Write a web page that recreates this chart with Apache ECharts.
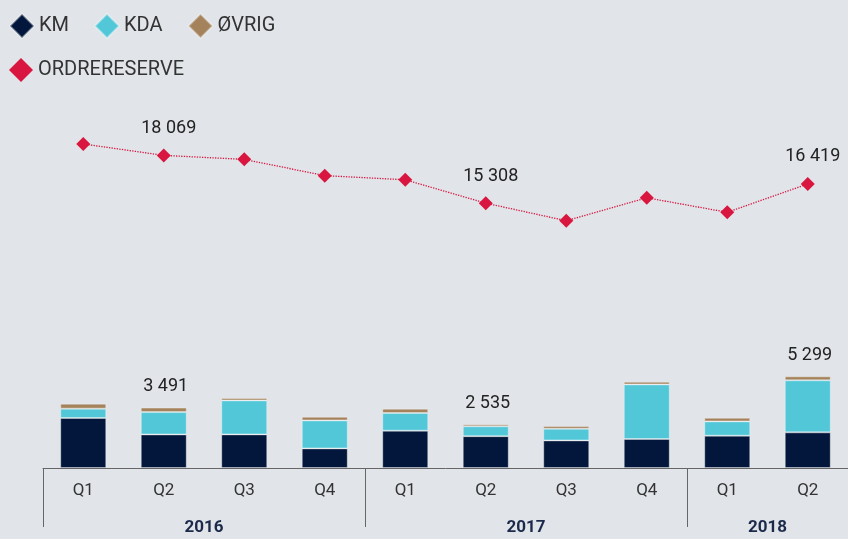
<!DOCTYPE html>
<html>
<head>
<meta charset="utf-8">
<script src="https://cdn.jsdelivr.net/npm/echarts@6/dist/echarts.min.js"></script>
<style>
  html, body { margin: 0; padding: 0; background: #e1e4e9; }
  #chart { width: 848px; height: 539px; }
</style>
</head>
<body>
<div id="chart"></div>
<script>
// kvartaler og år
const quarters = ['Q1', 'Q2', 'Q3', 'Q4', 'Q1', 'Q2', 'Q3', 'Q4', 'Q1', 'Q2'];
const years = ['2016', '2017', '2018'];
const yearStart = [0, 4, 8];
const yearCount = [4, 4, 2];

// verdier
const km = [2890, 1940, 1942, 1133, 2156, 1840, 1595, 1676, 1867, 2060];
const kda = [540, 1290, 1965, 1618, 1023, 570, 676, 3156, 827, 3010];
const ovrig = [290, 261, 135, 213, 250, 125, 154, 154, 213, 229];
const ordrereserve = [18730, 18069, 17840, 16900, 16660, 15308, 14290, 15620, 14780, 16419];

// punkter som har etikett
const labelled = [1, 5, 9];

function fmt(v) {
    return String(v).replace(/\B(?=(\d{3})+(?!\d))/g, ' ');
}

const totals = km.map((v, i) => v + kda[i] + ovrig[i]);
const yearPos = yearStart.map((s, i) => s + yearCount[i] / 2);

const font = 'Roboto, "Liberation Sans", sans-serif';
const barStyle = { borderColor: 'rgba(255,255,255,0.35)', borderWidth: 1 };

let myChart = echarts.init(document.getElementById('chart'), null, { renderer: 'canvas' });

myChart.setOption({
    backgroundColor: '#e1e4e9',
    animation: false,
    textStyle: { fontFamily: font },
    legend: [
        {
            left: 4, top: 8,
            icon: 'diamond', itemWidth: 24, itemHeight: 24, itemGap: 25,
            textStyle: { fontSize: 20, color: '#333', fontFamily: font },
            data: ['KM', 'KDA', 'ØVRIG']
        },
        {
            left: 4, top: 53,
            icon: 'diamond', itemWidth: 24, itemHeight: 24,
            textStyle: { fontSize: 20, color: '#333', fontFamily: font },
            data: ['ORDRERESERVE']
        }
    ],
    grid: { left: 43, right: 0, top: 122, bottom: 71 },
    xAxis: [
        {
            type: 'category',
            data: quarters,
            axisLine: { lineStyle: { color: '#666', width: 1 } },
            axisTick: { show: false },
            axisLabel: { color: '#333', fontSize: 17, margin: 14, fontFamily: font }
        },
        {
            type: 'value',
            min: 0, max: quarters.length,
            position: 'bottom',
            axisLine: { show: false },
            splitLine: { show: false },
            axisTick: {
                show: true, length: 59, customValues: yearStart,
                lineStyle: { color: '#666', width: 1 }
            },
            axisLabel: {
                customValues: yearPos,
                margin: 51,
                fontSize: 17, fontWeight: 'bold', color: '#1b2a4a', fontFamily: font,
                formatter: function (v) {
                    const i = yearPos.indexOf(v);
                    return i >= 0 ? years[i] : '';
                }
            }
        }
    ],
    yAxis: { type: 'value', min: 0, max: 20000, show: false, splitLine: { show: false } },
    series: [
        {
            name: 'KM', type: 'bar', stack: 'sum', barWidth: 46,
            itemStyle: Object.assign({ color: '#02173b' }, barStyle),
            data: km
        },
        {
            name: 'KDA', type: 'bar', stack: 'sum', barWidth: 46,
            itemStyle: Object.assign({ color: '#52c7d8' }, barStyle),
            data: kda
        },
        {
            name: 'ØVRIG', type: 'bar', stack: 'sum', barWidth: 46,
            itemStyle: Object.assign({ color: '#a4835c' }, barStyle),
            data: ovrig.map((v, i) => ({
                value: v,
                label: {
                    show: labelled.includes(i), position: 'top', distance: 12,
                    fontSize: 18, color: '#222', fontFamily: font,
                    offset: [2, 0],
                    formatter: () => fmt(totals[i])
                }
            }))
        },
        {
            name: 'ORDRERESERVE', type: 'line',
            symbol: 'diamond', symbolSize: 14,
            itemStyle: { color: '#d9163f' },
            lineStyle: { color: '#d9163f', width: 1.3, type: 'dotted' },
            data: ordrereserve.map((v, i) => ({
                value: v,
                label: {
                    show: labelled.includes(i), position: 'top', distance: 11,
                    fontSize: 18, color: '#222', fontFamily: font,
                    offset: [5, 0],
                    formatter: () => fmt(v)
                }
            }))
        }
    ]
});
</script>
</body>
</html>
